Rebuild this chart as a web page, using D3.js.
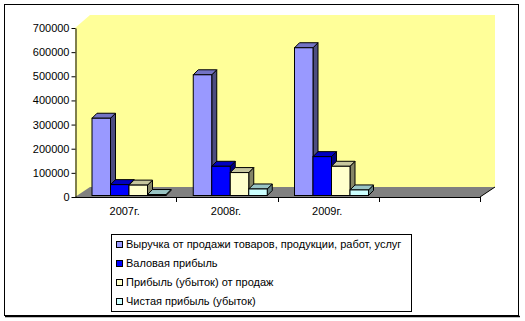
<!DOCTYPE html>
<meta charset="utf-8">
<head>
<title>Выручка и прибыль</title>
<script src="https://d3js.org/d3.v7.min.js"></script>
<style>
  body { margin: 0; background: #fff; }
  text { font-family: Arial, "Liberation Sans", sans-serif; font-size: 11px; fill: #000; }
</style>
</head>
<body>
<div id="chart"></div>
<script>
  // data
  let years = ["2007г.", "2008г.", "2009г.", ""];
  let seriesNames = [
    "Выручка от продажи товаров, продукции, работ, услуг",
    "Валовая прибыль",
    "Прибыль (убыток) от продаж",
    "Чистая прибыль (убыток)"
  ];
  let revenue   = [320000, 500000, 612000];
  let gross     = [45000, 121000, 161000];
  let salesProf = [43000, 95000, 121000];
  let netProf   = [4000, 27000, 23000];
  let yTicks = [0, 100000, 200000, 300000, 400000, 500000, 600000, 700000];

  let series = [revenue, gross, salesProf, netProf];
  // front, top, side colours of each series
  let colors = [
    ["#9999ff", "#7373c4", "#4d4d80"],
    ["#0000ff", "#0000c0", "#000080"],
    ["#ffffcc", "#c6c69f", "#858566"],
    ["#ccffff", "#99c4c4", "#668080"]
  ];

  let w = 525, h = 321;
  let svg = d3.select("#chart").append("svg")
              .attr("width", w)
              .attr("height", h)

  // chart area frame
  svg.append("rect")
     .attr("x", 4.5).attr("y", 4.5)
     .attr("width", 514).attr("height", 311)
     .style("fill", "white").style("stroke", "black")
  svg.append("line")
     .attr("x1", 5).attr("x2", 520).attr("y1", 316.5).attr("y2", 316.5)
     .style("stroke", "black").style("stroke-width", 1.5)

  let plotL = 75, plotR = 480, floorY = 197, plotT = 28;
  let depthX = 15, depthY = -10;

  let x = d3.scaleBand().domain(years).range([plotL, plotR])
  let x1 = d3.scaleBand().domain(seriesNames).range([17, 91])
  let y = d3.scaleLinear().domain([0, 700000]).range([floorY, plotT])
  let yBar = d3.scaleLinear().domain([0, 700000]).range([floorY - 1.5, plotT - 1.5])

  // walls
  svg.append("polygon")
     .attr("points", [[plotL, plotT], [plotL + depthX, plotT - 13], [plotR + depthX, plotT - 13],
                      [plotR + depthX, floorY + depthY], [plotR, floorY], [plotL, floorY]].join(" "))
     .style("fill", "#ffff99")

  // floor
  svg.append("polygon")
     .attr("points", [[plotL, floorY], [plotL + depthX, floorY + depthY],
                      [plotR + depthX, floorY + depthY], [plotR, floorY]].join(" "))
     .style("fill", "#808080")
  svg.append("line")
     .attr("x1", plotR).attr("y1", floorY)
     .attr("x2", plotR + depthX).attr("y2", floorY + depthY)
     .style("stroke", "black")

  // bars
  let dx = 5, dy = -5;
  let bars = [];
  years.slice(0, 3).forEach((c, i) => {
    series.forEach((s, j) => bars.push({cat: c, name: seriesNames[j], value: s[i], col: colors[j]}))
  })

  let g = svg.selectAll("g.bar")
             .data(bars)
             .enter()
             .append("g")
             .attr("class", "bar")

  g.each(function(d) {
    let x0 = x(d.cat) + x1(d.name);
    let bw = x1.bandwidth();
    let yb = yBar(0), yt = yBar(d.value);
    let el = d3.select(this);
    el.append("polygon")
      .attr("points", [[x0 + bw, yt], [x0 + bw + dx, yt + dy], [x0 + bw + dx, yb + dy], [x0 + bw, yb]].join(" "))
      .style("fill", d.col[2]).style("stroke", "black")
    el.append("polygon")
      .attr("points", [[x0, yt], [x0 + dx, yt + dy], [x0 + bw + dx, yt + dy], [x0 + bw, yt]].join(" "))
      .style("fill", d.col[1]).style("stroke", "black")
    el.append("rect")
      .attr("x", x0).attr("y", yt)
      .attr("width", bw).attr("height", yb - yt)
      .style("fill", d.col[0]).style("stroke", "black")
  })

  // value axis
  let yAxis = svg.append("g")
                 .attr("transform", "translate(" + (plotL + 0.5) + ",0)")
                 .call(d3.axisLeft(y).tickValues(yTicks).tickSize(4).tickSizeOuter(0).tickFormat(d3.format("d")))
  yAxis.select(".domain").style("stroke", "black")
  yAxis.selectAll(".tick line").style("stroke", "black")
  yAxis.selectAll("text").attr("x", -6).style("font-size", "11px").style("font-family", "Arial, 'Liberation Sans'")

  // category axis
  svg.append("line")
     .attr("x1", plotL).attr("x2", plotR)
     .attr("y1", floorY + 0.5).attr("y2", floorY + 0.5)
     .style("stroke", "black")
  svg.selectAll("line.ctick")
     .data(years)
     .enter()
     .append("line")
     .attr("class", "ctick")
     .attr("x1", (d) => Math.round(x(d) + x.bandwidth()) + 0.5)
     .attr("x2", (d) => Math.round(x(d) + x.bandwidth()) + 0.5)
     .attr("y1", floorY).attr("y2", floorY + 5)
     .style("stroke", "black")
  svg.selectAll("text.cat")
     .data(years)
     .enter()
     .append("text")
     .attr("class", "cat")
     .attr("x", (d) => x(d) + x.bandwidth() / 2 - 1)
     .attr("y", 215)
     .attr("text-anchor", "middle")
     .text((d) => d)

  // legend
  svg.append("rect")
     .attr("x", 111.5).attr("y", 234.5)
     .attr("width", 300).attr("height", 77)
     .style("fill", "white").style("stroke", "black")

  let leg = svg.selectAll("g.leg")
               .data(seriesNames)
               .enter()
               .append("g")
               .attr("class", "leg")
               .attr("transform", (d, i) => "translate(116," + (244 + i * 19) + ")")
  leg.append("rect")
     .attr("x", 0.5).attr("y", -2.5)
     .attr("width", 6).attr("height", 6)
     .style("fill", (d, i) => colors[i][0])
     .style("stroke", "black")
  leg.append("text")
     .attr("x", 10)
     .attr("y", 4)
     .text((d) => d)
</script>
</body>
